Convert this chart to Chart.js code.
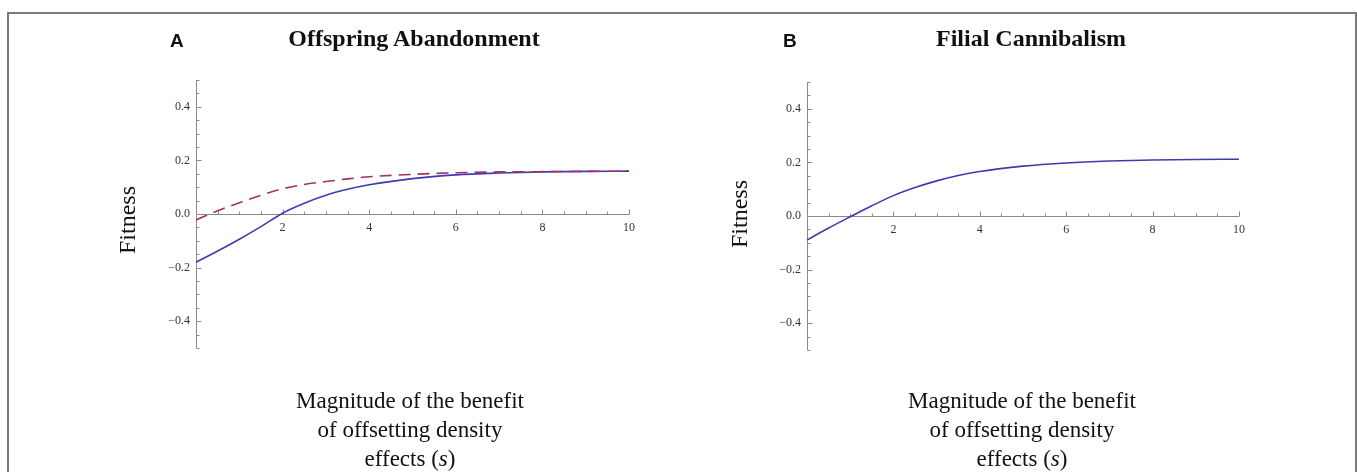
<!DOCTYPE html>
<html>
<head>
<meta charset="utf-8">
<script src="https://cdn.jsdelivr.net/npm/chart.js@4"></script>
<style>
  html, body { margin: 0; padding: 0; background: #fff; }
  body { width: 1357px; height: 472px; position: relative; overflow: hidden; }
  .frame { position: absolute; left: 7px; top: 12px; width: 1346px; height: 480px;
           border-top: 2px solid #7a7a7a; border-left: 2px solid #7a7a7a; border-right: 2px solid #7a7a7a; }
  canvas { position: absolute; top: 0; }
  .txt { position: absolute; white-space: nowrap; color: #111; }
  .letter { font: bold 19px "Liberation Sans", Arial, sans-serif; line-height: 19px; }
  .title { font: bold 24px "Liberation Serif", "Times New Roman", serif; line-height: 24px; transform: translateX(-50%); }
  .ylab { font: 24px "Liberation Serif", "Times New Roman", serif; line-height: 24px; transform: translate(-50%, -50%) rotate(-90deg); }
  .xlab { font: 23px "Liberation Serif", "Times New Roman", serif; line-height: 29px; text-align: center; transform: translateX(-50%); }
</style>
</head>
<body>
<div class="frame"></div>
<canvas id="cA" width="680" height="472" style="left:0px;width:680px;height:472px"></canvas>
<canvas id="cB" width="677" height="472" style="left:680px;width:677px;height:472px"></canvas>

<div class="txt letter" style="left:170px;top:31px">A</div>
<div class="txt title" style="left:414px;top:26px">Offspring Abandonment</div>
<div class="txt letter" style="left:783px;top:31px">B</div>
<div class="txt title" style="left:1031px;top:26px">Filial Cannibalism</div>

<div class="txt ylab" style="left:127px;top:220px">Fitness</div>
<div class="txt ylab" style="left:739px;top:214px">Fitness</div>

<div class="txt xlab" style="left:410px;top:386px">Magnitude of the benefit<br>of offsetting density<br>effects (<i>s</i>)</div>
<div class="txt xlab" style="left:1022px;top:386px">Magnitude of the benefit<br>of offsetting density<br>effects (<i>s</i>)</div>

<script>
// ---- data ----
const sValues = [0, 0.5, 1, 1.5, 2, 2.5, 3, 3.5, 4, 5, 6, 7, 8, 9, 10];
const abandonSolid = [-0.18, -0.138, -0.094, -0.047, 0.003, 0.040, 0.070, 0.092, 0.109, 0.132, 0.146, 0.153, 0.157, 0.159, 0.160];
const abandonDashed = [-0.022, 0.012, 0.042, 0.070, 0.094, 0.110, 0.121, 0.131, 0.139, 0.148, 0.154, 0.157, 0.158, 0.159, 0.160];
const cannibalSolid = [-0.090, -0.045, -0.003, 0.038, 0.076, 0.106, 0.131, 0.151, 0.166, 0.186, 0.198, 0.205, 0.209, 0.211, 0.212];
const xTickValues = [2, 4, 6, 8, 10];
const yTickValues = [-0.4, -0.2, 0, 0.2, 0.4];
const xMinorStep = 0.5;
const yMinorStep = 0.05;

const toPts = ys => sValues.map((s, i) => ({x: s, y: ys[i]}));

const BLUE = 'rgb(60,60,176)';
const CRIMSON = 'rgb(160,50,100)';
const AXIS = '#8a8a8a';

const axesPlugin = {
  id: 'mmaAxes',
  beforeDatasetsDraw(chart) {
    const ctx = chart.ctx;
    const xs = chart.scales.x, ys = chart.scales.y;
    const y0 = ys.getPixelForValue(0);
    const x0 = xs.getPixelForValue(0);
    ctx.save();
    ctx.strokeStyle = AXIS;
    ctx.lineWidth = 1;
    ctx.beginPath();
    ctx.moveTo(xs.getPixelForValue(xs.min), Math.round(y0) + 0.5);
    ctx.lineTo(xs.getPixelForValue(xs.max), Math.round(y0) + 0.5);
    ctx.moveTo(Math.round(x0) + 0.5, ys.getPixelForValue(ys.max));
    ctx.lineTo(Math.round(x0) + 0.5, ys.getPixelForValue(ys.min));
    const nx = Math.round((xs.max - xs.min) / xMinorStep);
    for (let i = 1; i <= nx; i++) {
      const v = xs.min + i * xMinorStep;
      const major = xTickValues.some(t => Math.abs(t - v) < 1e-9);
      const px = Math.round(xs.getPixelForValue(v)) + 0.5;
      ctx.moveTo(px, Math.round(y0) + 0.5);
      ctx.lineTo(px, Math.round(y0) + 0.5 - (major ? 5 : 3));
    }
    const ny = Math.round((ys.max - ys.min) / yMinorStep);
    for (let i = 0; i <= ny; i++) {
      const v = ys.min + i * yMinorStep;
      if (Math.abs(v) < 1e-9) continue;
      const major = yTickValues.some(t => Math.abs(t - v) < 1e-9);
      const py = Math.round(ys.getPixelForValue(v)) + 0.5;
      ctx.moveTo(Math.round(x0) + 0.5, py);
      ctx.lineTo(Math.round(x0) + 0.5 + (major ? 5 : 3), py);
    }
    ctx.stroke();
    ctx.restore();
  }
};

function makeChart(id, datasets, padding) {
  return new Chart(document.getElementById(id), {
    type: 'line',
    data: { datasets },
    plugins: [axesPlugin],
    options: {
      responsive: false,
      animation: false,
      layout: { padding },
      plugins: { legend: { display: false }, tooltip: { enabled: false }, title: { display: false } },
      elements: { point: { radius: 0 } },
      scales: {
        x: {
          type: 'linear', min: 0, max: 10,
          position: { y: 0 },
          grid: { display: false, drawTicks: false },
          border: { display: false },
          afterBuildTicks: s => { s.ticks = xTickValues.map(v => ({value: v})); },
          ticks: {
            autoSkip: false, maxRotation: 0, padding: 7,
            color: '#333',
            font: { family: '"Liberation Serif", "Times New Roman", serif', size: 12 },
            callback: v => String(v)
          }
        },
        y: {
          type: 'linear', min: -0.5, max: 0.5,
          position: 'left',
          grid: { display: false, drawTicks: false },
          border: { display: false },
          afterBuildTicks: s => { s.ticks = yTickValues.map(v => ({value: v})); },
          afterFit: s => { s.width = 40; },
          ticks: {
            autoSkip: false, padding: 6,
            color: '#333',
            font: { family: '"Liberation Serif", "Times New Roman", serif', size: 12 },
            callback: v => (v < -1e-9 ? '\u2212' : '') + Math.abs(v).toFixed(1)
          }
        }
      }
    }
  });
}

makeChart('cA', [
  { data: toPts(abandonDashed), borderColor: CRIMSON, borderWidth: 1.6, borderDash: [12, 7],
    cubicInterpolationMode: 'monotone', fill: false },
  { data: toPts(abandonSolid), borderColor: BLUE, borderWidth: 1.6,
    cubicInterpolationMode: 'monotone', fill: false }
], { left: 156, right: 51, top: 80, bottom: 124 });

makeChart('cB', [
  { data: toPts(cannibalSolid), borderColor: BLUE, borderWidth: 1.6,
    cubicInterpolationMode: 'monotone', fill: false }
], { left: 87, right: 118, top: 82, bottom: 122 });
</script>
</body>
</html>
